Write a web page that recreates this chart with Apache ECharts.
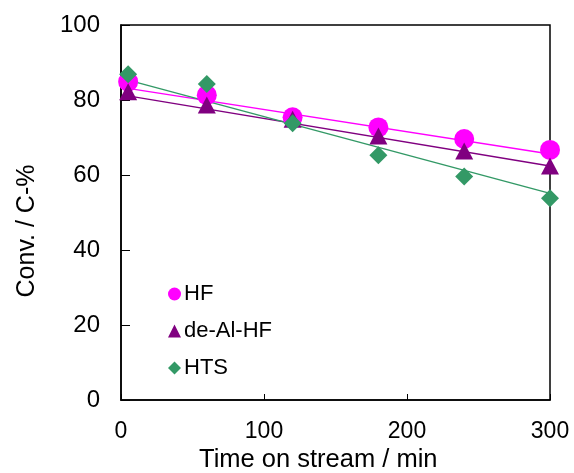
<!DOCTYPE html>
<html>
<head>
<meta charset="utf-8">
<script src="https://cdn.jsdelivr.net/npm/echarts@6/dist/echarts.min.js"></script>
<style>html,body{margin:0;padding:0;background:#fff}#c{width:574px;height:473px}</style>
</head>
<body>
<div id="c"></div>
<script>
var times = [5, 60, 120, 180, 240, 300];
var hf = [84.9, 81.3, 75.4, 72.7, 69.6, 66.7];
var deAlHf = [82.2, 78.7, 74.9, 70.4, 66.4, 62.4];
var hts = [86.9, 84.3, 73.8, 65.3, 59.6, 53.8];
var trendX = [5, 300];
var hfTrend = [83.1, 65.6];
var deAlHfTrend = [81.1, 62.4];
var htsTrend = [85.3, 55.1];
var xTicks = [0, 100, 200, 300];
var yTicks = [0, 20, 40, 60, 80, 100];
var names = ['HF', 'de-Al-HF', 'HTS'];
var colors = ['#FF00FF', '#800080', '#339966'];

function pairs(xs, ys) { return xs.map(function (x, i) { return [x, ys[i]]; }); }

var font = 'Liberation Sans, Arial, sans-serif';
var chart = echarts.init(document.getElementById('c'), null, {renderer: 'canvas'});
var trendSeries = [hfTrend, deAlHfTrend, htsTrend].map(function (t, i) {
  return {
    type: 'line', name: names[i] + '_trend', data: pairs(trendX, t),
    symbol: 'none', silent: true, z: 2,
    lineStyle: {color: colors[i], width: 1.5}
  };
});
var scatterSeries = [
  {type: 'scatter', name: 'HF', data: pairs(times, hf), symbol: 'circle', symbolSize: 20, itemStyle: {color: colors[0], opacity: 1}, z: 3},
  {type: 'scatter', name: 'de-Al-HF', data: pairs(times, deAlHf), symbol: 'triangle', symbolSize: [18, 17], itemStyle: {color: colors[1], opacity: 1}, z: 4},
  {type: 'scatter', name: 'HTS', data: pairs(times, hts), symbol: 'diamond', symbolSize: 18, itemStyle: {color: colors[2], opacity: 1}, z: 5}
];

chart.setOption({
  animation: false,
  backgroundColor: '#fff',
  grid: {left: 121, right: 24, top: 25, bottom: 73, show: true, borderColor: '#000', borderWidth: 1.5, backgroundColor: 'transparent'},
  legend: {
    orient: 'vertical', left: 163, top: 278, itemGap: 15, itemWidth: 13, itemHeight: 13,
    data: [
      {name: 'HF', icon: 'circle'},
      {name: 'de-Al-HF', icon: 'triangle'},
      {name: 'HTS', icon: 'diamond'}
    ],
    textStyle: {fontFamily: font, fontSize: 22, color: '#000', padding: [0, 0, 0, -2]}
  },
  xAxis: {
    type: 'value', min: xTicks[0], max: xTicks[xTicks.length - 1], interval: 100,
    axisLine: {show: true, onZero: false, lineStyle: {color: '#000', width: 1.5}},
    axisTick: {show: true, inside: true, length: 6, lineStyle: {color: '#000', width: 1}},
    axisLabel: {show: true, fontFamily: font, fontSize: 23, color: '#000', margin: 20, showMinLabel: true, showMaxLabel: true},
    splitLine: {show: false}
  },
  yAxis: {
    type: 'value', min: yTicks[0], max: yTicks[yTicks.length - 1], interval: 20,
    axisLine: {show: true, onZero: false, lineStyle: {color: '#000', width: 1.5}},
    axisTick: {show: true, inside: true, length: 9, lineStyle: {color: '#000', width: 1}},
    axisLabel: {show: true, fontFamily: font, fontSize: 24, color: '#000', margin: 21},
    splitLine: {show: false}
  },
  graphic: [
    {type: 'text', left: 199, top: 447, style: {text: 'Time on stream / min', fontFamily: font, fontSize: 25.5, fill: '#000', textAlign: 'left'}},
    {type: 'text', x: 27, y: 231, rotation: Math.PI / 2, style: {text: 'Conv. / C-%', fontFamily: font, fontSize: 25, fill: '#000', textAlign: 'center', textVerticalAlign: 'middle'}}
  ],
  series: trendSeries.concat(scatterSeries)
});
</script>
</body>
</html>
